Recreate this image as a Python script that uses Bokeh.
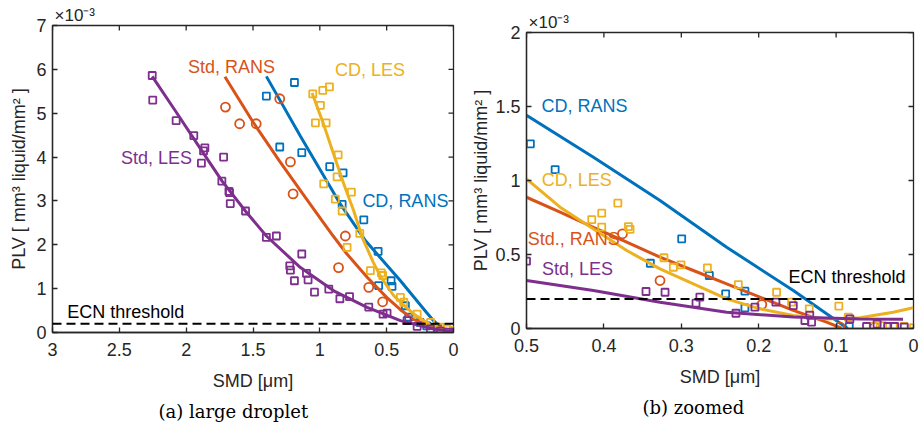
import math
from bokeh.plotting import figure
from bokeh.layouts import row, column
from bokeh.models import (Range1d, FixedTicker, NumeralTickFormatter, Span, Label, Title)
from bokeh.embed import file_html
from bokeh.resources import INLINE

# ---------------- data (PLV in units of 1e-3 mm^3 liquid / mm^2) ----------------
ECN_THRESHOLD = 0.2

# (a) large droplet
a_xticks = [3, 2.5, 2, 1.5, 1, 0.5, 0]
a_yticks = [0, 1, 2, 3, 4, 5, 6, 7]

a_cdrans_x = [1.40, 1.19, 1.30, 1.135, 0.926, 0.826, 0.833, 0.671, 0.564, 0.467, 0.46, 0.56,
              0.36, 0.335, 0.25, 0.2, 0.12, 0.075]
a_cdrans_y = [5.39, 5.70, 4.23, 4.10, 3.78, 3.64, 2.92, 2.57, 1.85, 1.18, 1.05, 1.07,
              0.61, 0.35, 0.23, 0.15, 0.10, 0.01]
a_cdrans_fit_x = [1.40, 1.144, 0.845, 0.658, 0.5, 0.397, 0.3, 0.2, 0.149, 0.08, 0.02]
a_cdrans_fit_y = [5.84, 4.47, 2.92, 2.09, 1.54, 1.18, 0.82, 0.45, 0.27, 0.08, 0.0]

a_stdrans_x = [1.706, 1.60, 1.476, 1.30, 1.22, 1.20, 0.809, 0.86, 0.634, 0.53, 0.1, 0.0]
a_stdrans_y = [5.14, 4.76, 4.76, 5.33, 3.89, 3.16, 2.20, 1.48, 1.03, 0.70, 0.03, 0.01]
a_stdrans_fit_x = [1.71, 1.5, 1.3, 1.13, 1.0, 0.9, 0.8, 0.646, 0.5, 0.397, 0.3, 0.149, 0.05]
a_stdrans_fit_y = [5.83, 4.8, 3.9, 3.17, 2.62, 2.2, 1.8, 1.26, 0.8, 0.52, 0.3, 0.12, 0.03]

a_cdles_x = [1.053, 0.978, 0.928, 0.996, 1.033, 0.953, 0.863, 0.871, 0.971, 0.764, 0.884,
             0.833, 0.701, 0.796, 0.622, 0.54, 0.53, 0.397, 0.372, 0.272, 0.172, 0.098,
             0.05, 0.0]
a_cdles_y = [5.44, 5.52, 5.60, 5.18, 4.78, 4.78, 4.05, 3.55, 3.39, 3.20, 3.04,
             2.77, 2.26, 1.94, 1.41, 1.36, 1.30, 0.80, 0.69, 0.42, 0.23, 0.12,
             0.08, 0.05]
a_cdles_fit_x = [1.058, 0.971, 0.896, 0.82, 0.746, 0.683, 0.6, 0.546, 0.45, 0.4, 0.3, 0.2,
                 0.1, 0.0]
a_cdles_fit_y = [5.46, 4.74, 4.06, 3.38, 2.77, 2.17, 1.6, 1.28, 0.85, 0.7, 0.43, 0.22,
                 0.09, 0.04]

a_stdles_x = [2.254, 2.25, 2.075, 1.943, 1.86, 1.87, 1.886, 1.72, 1.733, 1.676, 1.68, 1.67,
              1.556, 1.40, 1.325, 1.225, 1.22, 1.19, 1.135, 1.10, 1.088, 1.04, 0.933,
              0.85, 0.778, 0.634, 0.527, 0.497, 0.347, 0.272, 0.173, 0.098, 0.036, 0.0]
a_stdles_y = [5.86, 5.30, 4.83, 4.49, 4.21, 4.14, 3.86, 4.00, 3.45, 3.19, 3.22, 2.94,
              2.77, 2.17, 2.20, 1.52, 1.42, 1.18, 1.79, 1.35, 1.20, 0.92, 0.99,
              0.77, 0.82, 0.58, 0.42, 0.44, 0.27, 0.14, 0.08, 0.03, 0.01, 0.0]
a_stdles_fit_x = [2.254, 2.08, 1.88, 1.731, 1.557, 1.4, 1.145, 0.896, 0.646, 0.397, 0.149, 0.0]
a_stdles_fit_y = [5.84, 5.05, 4.13, 3.45, 2.77, 2.2, 1.48, 0.95, 0.575, 0.27, 0.08, 0.02]

# (b) zoomed
b_xticks = [0.5, 0.4, 0.3, 0.2, 0.1, 0]
b_yticks = [0, 0.5, 1, 1.5, 2]

b_cdrans_x = [0.495, 0.463, 0.2995, 0.34, 0.2638, 0.2427, 0.2178, 0.2178, 0.083]
b_cdrans_y = [1.248, 1.074, 0.606, 0.441, 0.358, 0.234, 0.252, 0.14, 0.0135]
b_cdrans_fit_x = [0.5, 0.4135, 0.3275, 0.2414, 0.1553, 0.1123, 0.085]
b_cdrans_fit_y = [1.44, 1.157, 0.865, 0.549, 0.257, 0.099, 0.0]

b_stdrans_x = [0.376, 0.3275, 0.196, 0.095, 0.05]
b_stdrans_y = [0.64, 0.324, 0.162, 0.009, 0.009]
b_stdrans_fit_x = [0.5, 0.4566, 0.4135, 0.3705, 0.3275, 0.2844, 0.2414, 0.1984, 0.1553,
                   0.1123, 0.093]
b_stdrans_fit_y = [0.887, 0.786, 0.684, 0.583, 0.482, 0.392, 0.302, 0.212, 0.122,
                   0.043, 0.002]

b_cdles_x = [0.382, 0.4028, 0.4157, 0.4028, 0.3683, 0.3662, 0.3224, 0.3103, 0.3004, 0.2663,
             0.2263, 0.1769, 0.1575, 0.1347, 0.0965, 0.0843, 0.052, 0.04, 0.0262, 0.012, 0.0]
b_cdles_y = [0.847, 0.779, 0.736, 0.685, 0.689, 0.67, 0.478, 0.414, 0.43, 0.41,
             0.297, 0.245, 0.178, 0.133, 0.151, 0.077, 0.0135, 0.02, 0.0135, 0.0135, 0.005]
b_cdles_fit_x = [0.5, 0.4566, 0.4135, 0.3705, 0.3275, 0.2844, 0.2414, 0.1984, 0.1553,
                 0.1123, 0.0693, 0.0262, 0.0004]
b_cdles_fit_y = [1.011, 0.82, 0.673, 0.527, 0.403, 0.302, 0.2, 0.133, 0.088,
                 0.065, 0.072, 0.11, 0.14]

b_stdles_x = [0.5, 0.3456, 0.321, 0.281, 0.276, 0.2294, 0.2049, 0.1778, 0.1553, 0.1403,
              0.1317, 0.134, 0.0822, 0.0607, 0.047, 0.0334, 0.0243, 0.012]
b_stdles_y = [0.455, 0.25, 0.245, 0.171, 0.212, 0.103, 0.144, 0.178, 0.155, 0.054,
              0.043, 0.09, 0.065, 0.0135, 0.03, 0.0135, 0.0135, 0.009]
b_stdles_fit_x = [0.5, 0.4135, 0.3275, 0.2414, 0.1553, 0.0693, 0.0136]
b_stdles_fit_y = [0.324, 0.257, 0.178, 0.11, 0.077, 0.065, 0.063]

BLUE, ORANGE, YELLOW, PURPLE = "#0072BD", "#D95319", "#EDB120", "#7E2F8E"
AX = "#262626"
FONT = "Liberation Sans"
FS = "18px"


def make_fig(xr, yr, xticks, yticks, width, height, mb, caption, cap_offset, mult_offset,
             ylab_standoff):
    p = figure(width=width, height=height, x_range=Range1d(*xr), y_range=Range1d(*yr),
               output_backend="svg", toolbar_location=None,
               min_border_left=mb[0], min_border_right=mb[1],
               min_border_top=mb[2], min_border_bottom=mb[3])
    p.xgrid.visible = False
    p.ygrid.visible = False
    p.outline_line_color = AX
    p.outline_line_width = 1.3
    p.background_fill_color = "white"
    p.border_fill_color = "white"
    for ax in (p.xaxis[0], p.yaxis[0]):
        ax.major_tick_in = 5
        ax.major_tick_out = 0
        ax.minor_tick_line_color = None
        ax.axis_line_color = AX
        ax.axis_line_width = 1.3
        ax.major_tick_line_color = AX
        ax.major_tick_line_width = 1.3
        ax.major_label_text_font = FONT
        ax.major_label_text_font_size = FS
        ax.major_label_text_color = AX
        ax.axis_label_text_font = FONT
        ax.axis_label_text_font_size = FS
        ax.axis_label_text_font_style = "normal"
        ax.axis_label_text_color = AX
        ax.formatter = NumeralTickFormatter(format="0.[0]")
    p.xaxis[0].ticker = FixedTicker(ticks=xticks)
    p.yaxis[0].ticker = FixedTicker(ticks=yticks)
    p.xaxis[0].axis_label = "SMD [μm]"
    p.yaxis[0].axis_label = "PLV [ mm³ liquid/mm² ]"
    p.xaxis[0].major_label_standoff = 10
    p.xaxis[0].axis_label_standoff = 12
    p.yaxis[0].major_label_standoff = 6
    p.yaxis[0].axis_label_standoff = ylab_standoff
    # inward ticks on the right and top edges of the box
    p.scatter([xr[1]] * len(yticks), yticks, marker="dash", size=10,
              line_color=AX, line_width=1.3)
    p.scatter(xticks, [yr[1]] * len(xticks), marker="dash", size=10, angle=math.pi / 2,
              line_color=AX, line_width=1.3)
    p.add_layout(Title(text="×10⁻³", align="left", offset=mult_offset, text_font=FONT,
                       text_font_size="17px", text_font_style="normal", text_color=AX,
                       standoff=1), "above")
    p.add_layout(Title(text=caption, align="left", offset=cap_offset, text_font="DejaVu Serif",
                       text_font_size="18px", text_font_style="normal", text_color="black",
                       standoff=10), "below")
    p.add_layout(Span(location=ECN_THRESHOLD, dimension="width", line_color="black",
                      line_width=2, line_dash="9 5"))
    return p


def series(p, x, y, fx, fy, color, marker, size):
    p.scatter(x, y, marker=marker, size=size, fill_color=None, line_color=color,
              line_width=1.8)
    p.line(fx, fy, line_color=color, line_width=3)


def lab(p, x, y, text, color, align="center"):
    p.add_layout(Label(x=x, y=y, text=text, text_color=color, text_font=FONT,
                       text_font_size=FS, text_align=align, text_baseline="middle"))


# ---------------- panel (a) ----------------
pa = make_fig((3, 0), (0, 7), a_xticks, a_yticks, 465, 426, (52, 12, 25, 94),
              "(a) large droplet", 106, 2, 4)
series(pa, a_cdrans_x, a_cdrans_y, a_cdrans_fit_x, a_cdrans_fit_y, BLUE, "square", 7)
series(pa, a_stdrans_x, a_stdrans_y, a_stdrans_fit_x, a_stdrans_fit_y, ORANGE, "circle", 9)
series(pa, a_cdles_x, a_cdles_y, a_cdles_fit_x, a_cdles_fit_y, YELLOW, "square", 7)
series(pa, a_stdles_x, a_stdles_y, a_stdles_fit_x, a_stdles_fit_y, PURPLE, "square", 7)
lab(pa, 1.66, 6.06, "Std, RANS", ORANGE)
lab(pa, 0.624, 5.98, "CD, LES", YELLOW)
lab(pa, 2.222, 3.99, "Std, LES", PURPLE)
lab(pa, 0.36, 3.0, "CD, RANS", BLUE)
lab(pa, 2.89, 0.467, "ECN threshold", "black", align="left")

# ---------------- panel (b) ----------------
pb = make_fig((0.5, 0), (0, 2), b_xticks, b_yticks, 457, 426, (61, 9, 32, 98),
              "(b) zoomed", 116, 2, 1)
series(pb, b_cdrans_x, b_cdrans_y, b_cdrans_fit_x, b_cdrans_fit_y, BLUE, "square", 7)
series(pb, b_stdrans_x, b_stdrans_y, b_stdrans_fit_x, b_stdrans_fit_y, ORANGE, "circle", 9)
series(pb, b_cdles_x, b_cdles_y, b_cdles_fit_x, b_cdles_fit_y, YELLOW, "square", 7)
series(pb, b_stdles_x, b_stdles_y, b_stdles_fit_x, b_stdles_fit_y, PURPLE, "square", 7)
lab(pb, 0.425, 1.503, "CD, RANS", BLUE)
lab(pb, 0.435, 1.003, "CD, LES", YELLOW)
lab(pb, 0.439, 0.603, "Std., RANS", ORANGE)
lab(pb, 0.434, 0.40, "Std, LES", PURPLE)
lab(pb, 0.0103, 0.347, "ECN threshold", "black", align="right")

layout = row(column(pa), column(pb))
open("out.html", "w").write(file_html(layout, INLINE))
